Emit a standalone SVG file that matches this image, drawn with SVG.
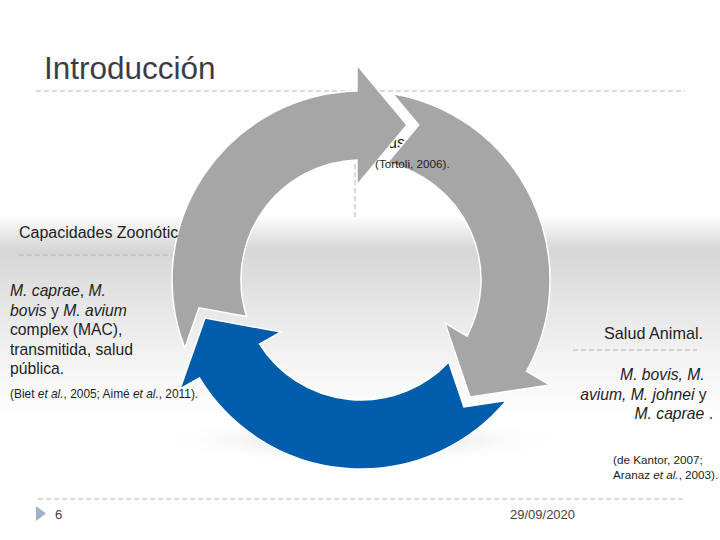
<svg xmlns="http://www.w3.org/2000/svg" width="720" height="540" viewBox="0 0 720 540">
<defs>
<linearGradient id="band" x1="0" y1="0" x2="0" y2="1">
<stop offset="0" stop-color="#ffffff"/>
<stop offset="0.17" stop-color="#d6d6d6"/>
<stop offset="0.42" stop-color="#e5e5e5"/>
<stop offset="0.72" stop-color="#f4f4f4"/>
<stop offset="1" stop-color="#ffffff"/>
</linearGradient>
<radialGradient id="shadow" cx="0.5" cy="0.5" r="0.5">
<stop offset="0" stop-color="#c8c8c8" stop-opacity="0.9"/>
<stop offset="1" stop-color="#ffffff" stop-opacity="0"/>
</radialGradient>
<style>
.t{font-family:"Liberation Sans",Arial,sans-serif;fill:#1e1e1e}
.i{font-style:italic}
.dash{stroke:#b4b4b4;stroke-width:1;stroke-dasharray:5 3;fill:none}
.gray{fill:#a6a6a6;stroke:#ffffff;stroke-width:1.5;stroke-linejoin:miter}
.blue{fill:#005dac;stroke:#ffffff;stroke-width:1.5;stroke-linejoin:miter}
</style>
</defs>
<rect width="720" height="540" fill="#ffffff"/>
<rect x="0" y="215" width="720" height="205" fill="url(#band)"/>
<ellipse cx="361" cy="440" rx="210" ry="24" fill="url(#shadow)"/>

<g id="title">
<text class="t" x="44" y="79" font-size="31.5" style="fill:#3c3c48">Introducción</text>
<line class="dash" x1="36" y1="91" x2="685" y2="91"/>
</g>

<g id="top-text">
<line class="dash" x1="355" y1="100" x2="355" y2="217"/>
<text class="t" x="388" y="148" font-size="16">us</text>
</g>

<g id="arrow-top">
<path class="gray" d="M184.8,348.3 A189,189 0 0 1 357,91 L357,65 L407,125 L357,185 L357,160 A120,120 0 0 0 246.7,316.6 L199,307.8 Z"/>
</g>
<g id="arrow-right">
<path class="gray" d="M392.6,93.7 A189,189 0 0 1 526.6,371.2 L550,385 L470,397 L445,323 L467.1,336.1 A120,120 0 0 0 387.2,162.9 L418.7,125 Z"/>
</g>
<g id="arrow-bottom">
<path class="blue" d="M448.7,362 L463.9,407 L506.5,400.6 A189,189 0 0 1 199.4,378 L180,389 L205,318 L281,332 L259.6,344.1 A120,120 0 0 0 448.7,362 Z"/>
</g>

<g id="top-ref">
<text class="t" x="375" y="168" font-size="11.7">(Tortoli, 2006).</text>
</g>

<g id="left-node">
<text class="t" x="19" y="238" font-size="16">Capacidades Zoonótic</text>
<line class="dash" x1="19" y1="255" x2="172" y2="255"/>
<text class="t" font-size="15.7">
<tspan x="10" y="296"><tspan class="i">M. caprae</tspan>, <tspan class="i">M.</tspan></tspan>
<tspan x="10" y="315.5"><tspan class="i">bovis</tspan> y <tspan class="i">M. avium</tspan></tspan>
<tspan x="10" y="335">complex (MAC),</tspan>
<tspan x="10" y="354.5">transmitida, salud</tspan>
<tspan x="10" y="374">pública.</tspan>
</text>
<text class="t" x="10" y="398" font-size="11.9">(Biet <tspan class="i">et al.</tspan>, 2005; Aimé <tspan class="i">et al.</tspan>, 2011).</text>
</g>

<g id="right-node">
<text class="t" x="703" y="339" font-size="16.2" text-anchor="end">Salud Animal.</text>
<line class="dash" x1="573" y1="350" x2="697" y2="350"/>
<text class="t" font-size="15.7" text-anchor="end">
<tspan x="709" y="380" class="i">M. bovis, M.</tspan>
<tspan x="711" y="400"><tspan class="i">avium, M. johnei</tspan> y</tspan>
<tspan x="713" y="419"><tspan class="i">M. caprae</tspan> .</tspan>
</text>
<text class="t" font-size="11.7">
<tspan x="613" y="464">(de Kantor, 2007;</tspan>
<tspan x="613" y="479">Aranaz <tspan class="i">et al.</tspan>, 2003).</tspan>
</text>
</g>

<g id="footer">
<line class="dash" x1="38" y1="499" x2="686" y2="499"/>
<polygon points="36,506 46,513.5 36,521" fill="#9fb3c8"/>
<text class="t" x="55" y="519" font-size="13" style="fill:#444">6</text>
<text class="t" x="510" y="519" font-size="13" style="fill:#444">29/09/2020</text>
</g>
</svg>
